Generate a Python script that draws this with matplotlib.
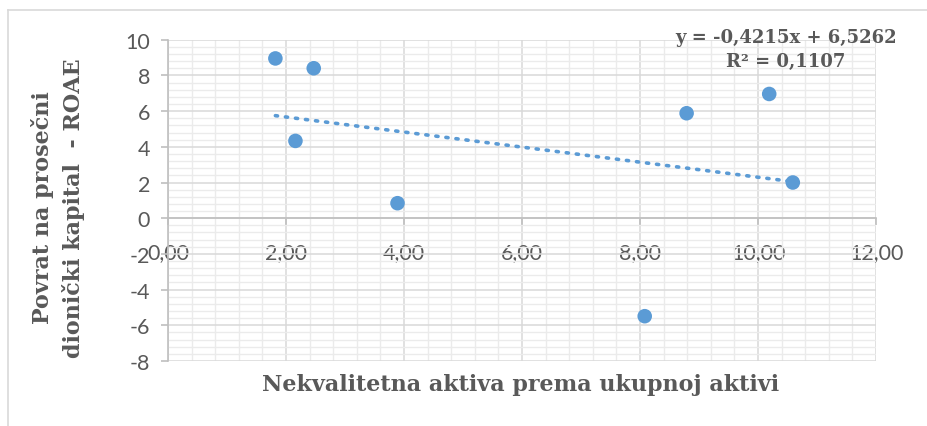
import numpy as np
import matplotlib.pyplot as plt
from matplotlib.lines import Line2D
from matplotlib.ticker import MultipleLocator, FuncFormatter

# values
npa_ratio = [1.82, 2.47, 2.16, 3.89, 8.79, 10.19, 10.59, 8.08]
roae = [8.95, 8.40, 4.33, 0.84, 5.88, 6.96, 2.00, -5.49]

x_ticks = [0, 2, 4, 6, 8, 10, 12]
y_ticks = [-8, -6, -4, -2, 0, 2, 4, 6, 8, 10]

x_title = "Nekvalitetna aktiva prema ukupnoj aktivi"
y_title = "Povrat na prosečni\ndionički kapital  - ROAE"
trend_label = "y = -0,4215x + 6,5262\nR² = 0,1107"

BLUE = "#5b9bd5"
TEXT = "#595959"
SERIF = ["DejaVu Serif"]

fig = plt.figure(figsize=(9.27, 4.27), dpi=100)
ax = fig.add_axes([168 / 927, 1 - 362 / 427, (876 - 168) / 927, (362 - 40.7) / 427])

ax.set_xlim(0, 12)
ax.set_ylim(-8, 10)
ax.xaxis.set_minor_locator(MultipleLocator(0.4))
ax.yaxis.set_minor_locator(MultipleLocator(0.4))
ax.set_xticks(x_ticks)
ax.set_yticks(y_ticks)
ax.xaxis.set_major_formatter(FuncFormatter(lambda v, p: f"{v:.2f}".replace(".", ",")))
ax.yaxis.set_major_formatter(FuncFormatter(lambda v, p: f"{v:.0f}"))

ax.grid(which="major", color="#d9d9d9", lw=1.1, zorder=0)
ax.grid(which="minor", color="#ebebeb", lw=1.0, zorder=0)
ax.set_axisbelow(True)

for s in ["top", "right"]:
    ax.spines[s].set_visible(False)
ax.spines["bottom"].set_position(("data", 0))
for s in ["bottom", "left"]:
    ax.spines[s].set_color("#bfbfbf")
    ax.spines[s].set_linewidth(1.2)

ax.tick_params(which="major", length=5, width=1.2, color="#bfbfbf",
               labelcolor=TEXT, labelsize=15.5)
ax.tick_params(axis="x", pad=12)
ax.tick_params(axis="y", pad=8)
ax.tick_params(which="minor", length=0)
for lab in ax.get_xticklabels() + ax.get_yticklabels():
    lab.set_family("Lato")

# linear trend over the data range
coef = np.polyfit(npa_ratio, roae, 1)
xs = np.array([min(npa_ratio), max(npa_ratio)])
ax.plot(xs, np.polyval(coef, xs), color=BLUE, lw=2.6,
        linestyle=(0, (0.6, 2.2)), dash_capstyle="round", zorder=3)

ax.scatter(npa_ratio, roae, s=110, color=BLUE, edgecolors="none", zorder=4, clip_on=False)

fig.text(786 / 927, 1 - 50 / 427, trend_label, ha="center", va="center",
         family=SERIF, weight="bold", fontsize=13, color=TEXT, linespacing=1.45)

fig.text(521 / 927, 1 - 385 / 427, x_title, ha="center", va="center",
         family=SERIF, weight="bold", fontsize=16, color=TEXT)
fig.text(58 / 927, 1 - 208 / 427, y_title, ha="center", va="center", rotation=90,
         family=SERIF, weight="bold", fontsize=16, color=TEXT, linespacing=1.4)

# chart area border (left and top edges visible)
fig.add_artist(Line2D([8 / 927, 8 / 927], [0, 1 - 11 / 427], color="#d9d9d9", lw=1.2))
fig.add_artist(Line2D([8 / 927, 1], [1 - 11 / 427, 1 - 11 / 427], color="#d9d9d9", lw=1.2))

fig.savefig("out.png", dpi=100)
